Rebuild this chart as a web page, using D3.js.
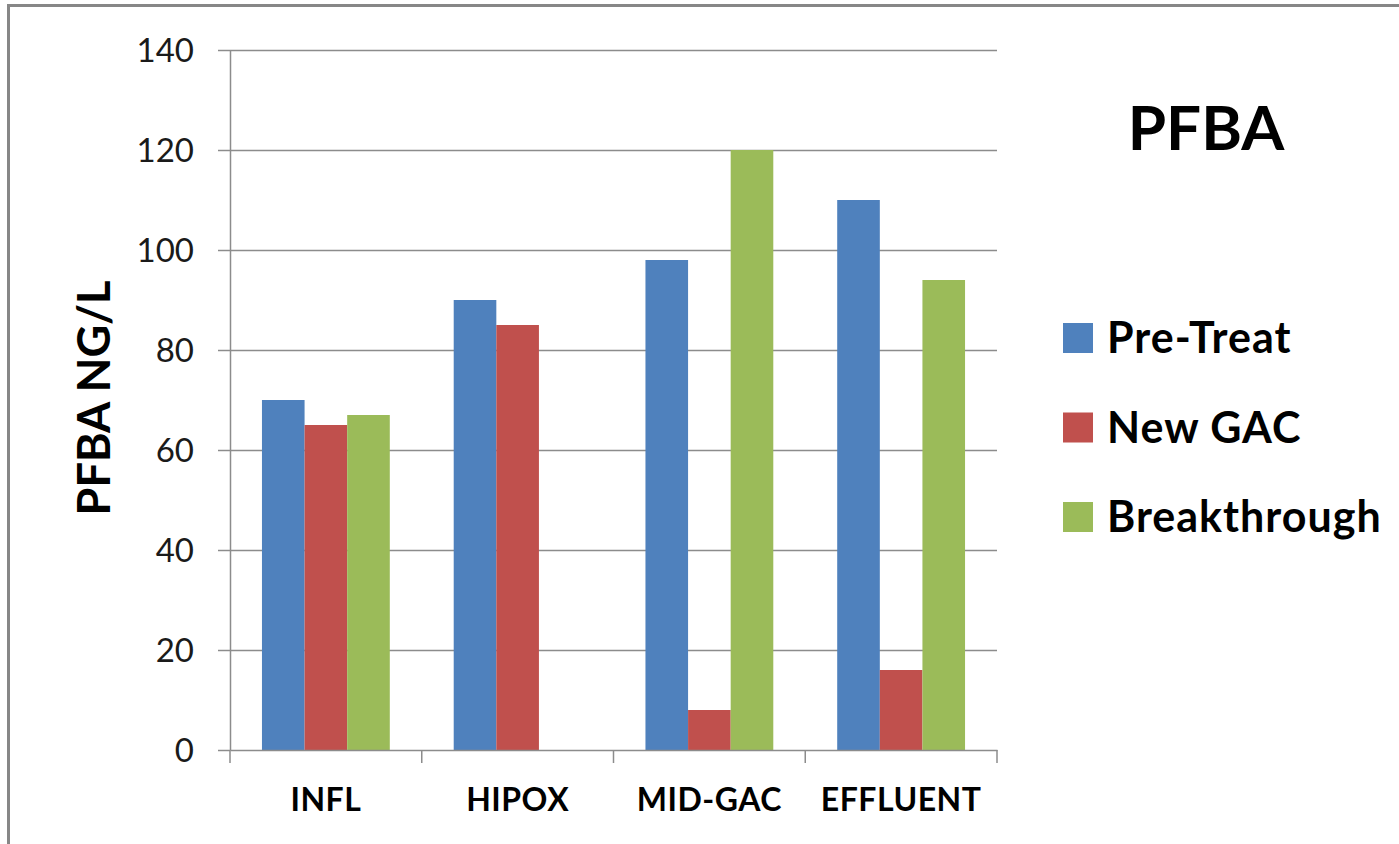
<!DOCTYPE html>
<html>
<head>
<meta charset="utf-8">
<script src="https://cdn.jsdelivr.net/npm/d3@7"></script>
<style>
  html, body { margin: 0; padding: 0; background: #fff; }
  svg { display: block; font-family: Lato, "Open Sans", sans-serif; }
</style>
</head>
<body>
<svg id="chart" width="1399" height="844"></svg>
<script>
// PFBA concentrations (ng/L) by sampling location
const categories = ["INFL", "HIPOX", "MID-GAC", "EFFLUENT"];
const seriesNames = ["Pre-Treat", "New GAC", "Breakthrough"];
const preTreat = [70, 90, 98, 110];
const newGAC = [65, 85, 8, 16];
const breakthrough = [67, null, 120, 94];
const yTicks = [0, 20, 40, 60, 80, 100, 120, 140];
const colors = ["#4F81BD", "#C0504D", "#9BBB59"];

const seriesValues = [preTreat, newGAC, breakthrough];

const svg = d3.select("#chart");

// outer frame (only top and left edges fall inside the view)
svg.append("rect")
  .attr("x", 8.5).attr("y", 5.5)
  .attr("width", 1600).attr("height", 1000)
  .attr("fill", "none").attr("stroke", "#878787").attr("stroke-width", 3);

const plot = { left: 230, right: 997, top: 50, bottom: 750 };

const x = d3.scaleBand()
  .domain(categories)
  .range([plot.left, plot.right])
  .paddingInner(0).paddingOuter(0);

const gapRatio = 1.5; // gap between groups as a fraction of bar width
const barW = x.bandwidth() / (seriesNames.length + gapRatio);
const xInner = d3.scaleBand()
  .domain(seriesNames)
  .range([barW * gapRatio / 2, barW * gapRatio / 2 + barW * seriesNames.length]);

const y = d3.scaleLinear().domain([0, 140]).range([plot.bottom, plot.top]);

// horizontal gridlines
svg.append("g")
  .selectAll("line")
  .data(yTicks.filter(t => t > 0))
  .join("line")
  .attr("x1", plot.left).attr("x2", plot.right)
  .attr("y1", d => y(d) + 0.5).attr("y2", d => y(d) + 0.5)
  .attr("stroke", "#8c8c8c").attr("stroke-width", 1.5);

// bars
const groups = svg.append("g")
  .selectAll("g")
  .data(categories)
  .join("g")
  .attr("transform", d => `translate(${x(d)},0)`);

groups.selectAll("rect")
  .data((c, i) => seriesNames.map((s, k) => ({ s, k, v: seriesValues[k][i] })).filter(d => d.v != null))
  .join("rect")
  .attr("x", d => xInner(d.s))
  .attr("width", xInner.bandwidth())
  .attr("y", d => y(d.v))
  .attr("height", d => y(0) - y(d.v))
  .attr("fill", d => colors[d.k]);

// y axis
const yAxis = d3.axisLeft(y).tickValues(yTicks).tickSize(12).tickPadding(24).tickSizeOuter(0);
const gy = svg.append("g").attr("transform", `translate(${plot.left},0)`).call(yAxis);
gy.select(".domain").attr("stroke", "#8c8c8c").attr("stroke-width", 1.5);
gy.selectAll(".tick line").attr("stroke", "#8c8c8c").attr("stroke-width", 1.5);
gy.selectAll(".tick text")
  .attr("font-family", "Lato, sans-serif")
  .attr("font-size", 33).attr("fill", "#1a1a1a").attr("dy", "0.35em");

// x axis
const xAxis = d3.axisBottom(x).tickSize(0).tickPadding(38).tickSizeOuter(0);
const gx = svg.append("g").attr("transform", `translate(0,${plot.bottom})`).call(xAxis);
gx.select(".domain").attr("stroke", "#8c8c8c").attr("stroke-width", 1.5);
gx.selectAll(".tick text")
  .attr("font-family", "Lato, sans-serif")
  .attr("font-weight", "bold").attr("font-size", 32)
  .attr("letter-spacing", 0.5).attr("fill", "#000");
// category separator ticks
svg.append("g")
  .selectAll("line")
  .data(d3.range(categories.length + 1))
  .join("line")
  .attr("x1", i => plot.left + i * x.bandwidth())
  .attr("x2", i => plot.left + i * x.bandwidth())
  .attr("y1", plot.bottom).attr("y2", plot.bottom + 13)
  .attr("stroke", "#8c8c8c").attr("stroke-width", 1.5);

// y axis title
svg.append("text")
  .attr("transform", "translate(110,398) rotate(-90)")
  .attr("text-anchor", "middle")
  .attr("font-weight", "bold").attr("font-size", 45)
  .text("PFBA NG/L");

// chart title
svg.append("text")
  .attr("x", 1206).attr("y", 150)
  .attr("text-anchor", "middle")
  .attr("font-weight", "bold").attr("font-size", 62)
  .text("PFBA");

// legend
const legend = svg.append("g")
  .selectAll("g")
  .data(seriesNames)
  .join("g")
  .attr("transform", (d, i) => `translate(1063,${338 + i * 89.5})`);
legend.append("rect")
  .attr("x", 0).attr("y", -15).attr("width", 30).attr("height", 30)
  .attr("fill", (d, i) => colors[i]);
legend.append("text")
  .attr("x", 44).attr("y", 0).attr("dy", "0.35em")
  .attr("font-weight", "bold").attr("font-size", 43)
  .attr("letter-spacing", 1)
  .text(d => d);
</script>
</body>
</html>
